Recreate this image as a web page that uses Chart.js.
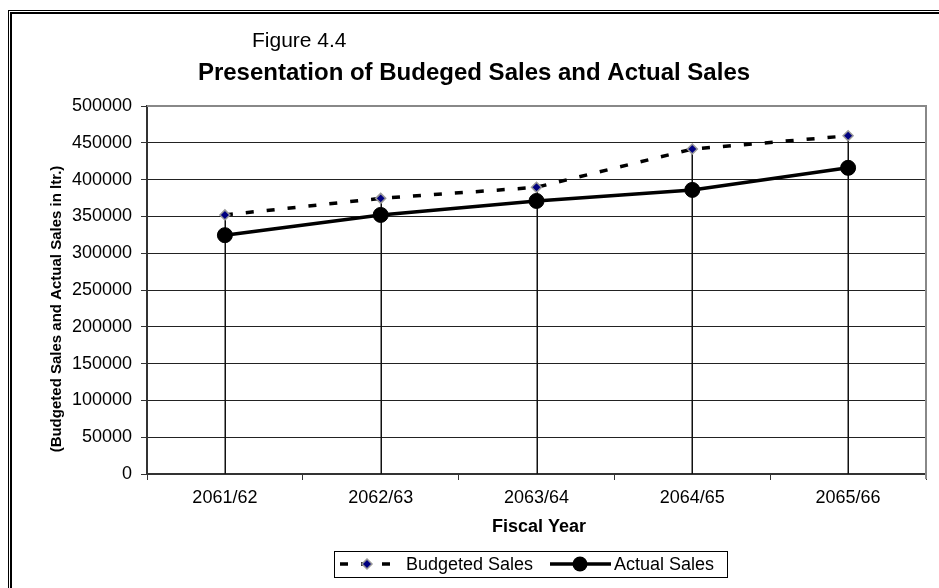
<!DOCTYPE html>
<html>
<head>
<meta charset="utf-8">
<title>Budgeted vs Actual Sales</title>
<script src="https://cdn.jsdelivr.net/npm/chart.js@4.4.1/dist/chart.umd.min.js"></script>
<style>
  html, body { margin: 0; padding: 0; background: #fff; }
  canvas { display: block; }
</style>
</head>
<body>
<canvas id="salesChart" width="939" height="588"></canvas>
<script>
const fiscalYears = ["2061/62", "2062/63", "2063/64", "2064/65", "2065/66"];
const budgetedSales = [352000, 374500, 389500, 441500, 459500];
const actualSales = [324500, 352000, 371000, 386000, 416000];
const yTicks = [0, 50000, 100000, 150000, 200000, 250000, 300000, 350000, 400000, 450000, 500000];

const FONT = "'Liberation Sans', Arial, sans-serif";

// outer double frame, headings, axis titles, plot border
const decorations = {
  id: "decorations",
  beforeDraw(chart) {
    const { ctx, width, height } = chart;
    ctx.save();
    ctx.fillStyle = "#fff";
    ctx.fillRect(0, 0, width, height);
    ctx.fillStyle = "#000";
    ctx.fillRect(8, 10, 1, height - 10);
    ctx.fillRect(10, 12, 2, height - 12);
    ctx.fillRect(8, 10, width - 8, 1);
    ctx.fillRect(10, 12, width - 10, 2);

    ctx.textBaseline = "alphabetic";
    ctx.font = "21px " + FONT;
    ctx.textAlign = "left";
    ctx.fillText("Figure 4.4", 252, 47);
    ctx.font = "bold 24px " + FONT;
    ctx.textAlign = "center";
    ctx.fillText("Presentation of Budeged Sales and Actual Sales", 474, 80);

    ctx.font = "bold 18px " + FONT;
    ctx.textBaseline = "middle";
    ctx.fillText("Fiscal Year", 539, 527);

    ctx.translate(57, 309);
    ctx.rotate(-Math.PI / 2);
    ctx.font = "bold 15px " + FONT;
    ctx.fillText("(Budgeted Sales and Actual Sales in ltr.)", 0, 0);
    ctx.restore();
  },
  beforeDatasetsDraw(chart) {
    const { ctx, chartArea, scales } = chart;
    const x = scales.x, y = scales.y;
    ctx.save();
    // grey plot border on top and right
    ctx.strokeStyle = "#888";
    ctx.lineWidth = 2;
    ctx.beginPath();
    ctx.moveTo(chartArea.left, chartArea.top);
    ctx.lineTo(chartArea.right, chartArea.top);
    ctx.lineTo(chartArea.right, chartArea.bottom + 5);
    ctx.stroke();
    // drop lines from the higher point of each year down to zero
    ctx.strokeStyle = "#111";
    ctx.lineWidth = 1.5;
    fiscalYears.forEach((_, i) => {
      const px = Math.round(x.getPixelForValue(i)) + 0.25;
      const top = y.getPixelForValue(Math.max(budgetedSales[i], actualSales[i]));
      ctx.beginPath();
      ctx.moveTo(px, top);
      ctx.lineTo(px, y.getPixelForValue(0));
      ctx.stroke();
    });
    ctx.restore();
  }
};

function drawDiamond(ctx, cx, cy, r, fill, stroke, lw) {
  ctx.beginPath();
  ctx.moveTo(cx, cy - r);
  ctx.lineTo(cx + r, cy);
  ctx.lineTo(cx, cy + r);
  ctx.lineTo(cx - r, cy);
  ctx.closePath();
  ctx.fillStyle = fill;
  ctx.fill();
  ctx.strokeStyle = stroke;
  ctx.lineWidth = lw;
  ctx.stroke();
}

// boxed legend below the chart: line sample with marker, then label
const boxedLegend = {
  id: "boxedLegend",
  afterDraw(chart) {
    const { ctx } = chart;
    const ds = chart.data.datasets;
    const cy = 564;
    ctx.save();
    ctx.strokeStyle = "#000";
    ctx.lineWidth = 1;
    ctx.strokeRect(334.5, 551.5, 393, 26);

    ctx.font = "18px " + FONT;
    ctx.textBaseline = "middle";
    ctx.textAlign = "left";

    // budgeted sample
    ctx.strokeStyle = ds[0].borderColor;
    ctx.lineWidth = ds[0].borderWidth;
    ctx.setLineDash(ds[0].borderDash);
    ctx.beginPath();
    ctx.moveTo(340, cy);
    ctx.lineTo(393, cy);
    ctx.stroke();
    ctx.setLineDash([]);
    drawDiamond(ctx, 367, cy, ds[0].pointRadius, ds[0].pointBackgroundColor, ds[0].pointBorderColor, ds[0].pointBorderWidth);
    ctx.fillStyle = "#000";
    ctx.fillText(ds[0].label, 406, cy + 1);

    // actual sample
    ctx.strokeStyle = ds[1].borderColor;
    ctx.lineWidth = ds[1].borderWidth;
    ctx.beginPath();
    ctx.moveTo(550, cy);
    ctx.lineTo(611, cy);
    ctx.stroke();
    ctx.beginPath();
    ctx.arc(580, cy, ds[1].pointRadius, 0, Math.PI * 2);
    ctx.fillStyle = ds[1].pointBackgroundColor;
    ctx.fill();
    ctx.fillStyle = "#000";
    ctx.fillText(ds[1].label, 614, cy + 1);
    ctx.restore();
  }
};

new Chart(document.getElementById("salesChart").getContext("2d"), {
  type: "line",
  data: {
    labels: fiscalYears,
    datasets: [
      {
        label: "Budgeted Sales",
        data: budgetedSales,
        borderColor: "#000",
        borderWidth: 3.5,
        borderDash: [8, 13],
        pointStyle: "rectRot",
        pointRadius: 5,
        pointBackgroundColor: "#000080",
        pointBorderColor: "#999",
        pointBorderWidth: 1.5,
        tension: 0,
        order: 2
      },
      {
        label: "Actual Sales",
        data: actualSales,
        borderColor: "#000",
        borderWidth: 3.5,
        pointStyle: "circle",
        pointRadius: 7.5,
        pointBackgroundColor: "#000",
        pointBorderColor: "#000",
        pointBorderWidth: 1,
        tension: 0,
        order: 1
      }
    ]
  },
  options: {
    responsive: false,
    animation: false,
    devicePixelRatio: 1,
    layout: { padding: { top: 106, right: 13, left: 0, bottom: 0 } },
    plugins: {
      legend: { display: false },
      title: { display: false },
      tooltip: { enabled: false }
    },
    scales: {
      x: {
        type: "category",
        offset: true,
        afterFit(scale) { scale.height = 114; },
        border: { color: "#333", width: 2 },
        grid: {
          offset: true,
          drawOnChartArea: false,
          drawTicks: true,
          tickLength: 6,
          color: "#333",
          lineWidth: 1
        },
        ticks: {
          color: "#000",
          font: { family: FONT, size: 18 },
          padding: 7,
          maxRotation: 0
        }
      },
      y: {
        min: 0,
        max: 500000,
        afterFit(scale) { scale.width = 147; },
        afterBuildTicks(scale) { scale.ticks = yTicks.map(v => ({ value: v })); },
        border: { color: "#333", width: 2 },
        grid: {
          color: ctx => (ctx.tick && ctx.tick.value === 500000 ? "#888" : "#222"),
          lineWidth: 1,
          drawTicks: true,
          tickLength: 6,
          tickColor: "#333"
        },
        ticks: {
          color: "#000",
          font: { family: FONT, size: 18 },
          padding: 9,
          callback: v => String(v)
        }
      }
    }
  },
  plugins: [decorations, boxedLegend]
});
</script>
</body>
</html>
